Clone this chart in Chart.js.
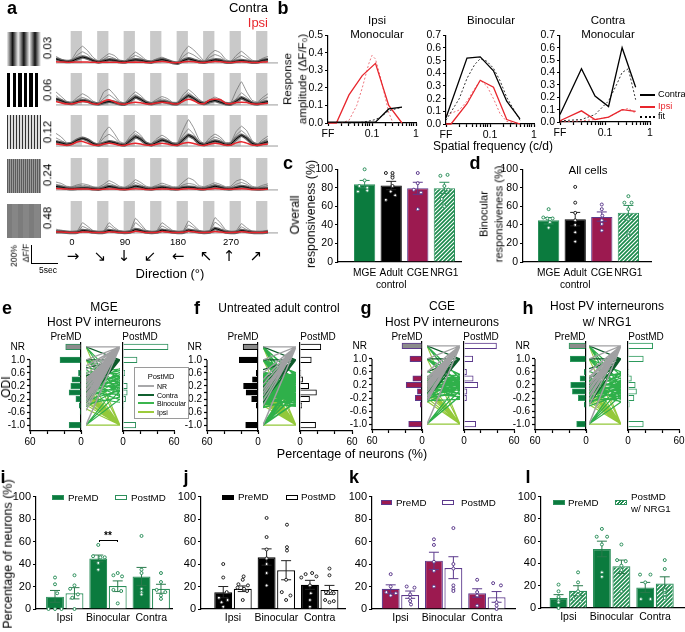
<!DOCTYPE html>
<html>
<head>
<meta charset="utf-8">
<title>Ocular dominance figure</title>
<script src="https://cdn.jsdelivr.net/npm/chart.js@4"></script>
<style>
html, body { margin: 0; padding: 0; background: #fff; }
#fig { position: relative; width: 685px; height: 632px; overflow: hidden; font-family: "Liberation Sans", Arial, sans-serif; color: #000; }
#fig canvas { position: absolute; }
.t { position: absolute; white-space: nowrap; line-height: 1; will-change: transform; }
.s { position: absolute; box-sizing: border-box; }
</style>
</head>
<body>
<div id="fig"></div>
<script>
// panel a: traces, one value per second, in % dF/F
const stimCentres = [3.83, 8.83, 13.83, 18.83, 23.83, 28.83, 33.83, 38.83];
const spatialLabels = ["0.03", "0.06", "0.12", "0.24", "0.48"];
const a1Contra = [44,25,15, 20,45,63,50,25, 10,22,33,28,15, 10,25,33,28,15, 8,25,36,25,5, -3,25,44,30,12, 8,22,33,28,10, 8,18,25,18,8, 10,28,36];
const a1Ipsi = [12,10,8, 8,10,10,9,8, 6,8,8,8,6, 6,8,9,8,6, 6,12,15,10,4, 4,10,15,12,6, 6,10,15,12,8, 6,10,12,10,6, 6,10,12];
const a1Hi = [70,40,20, 40,130,180,130,60, 20,60,100,80,30, 15,70,117,80,30, 20,45,62,40,10, 10,110,180,140,80, 20,90,135,110,40, 15,80,125,80,30, 20,50,70];
const a1Mid = [50,30,15, 25,85,120,90,35, 12,40,70,50,20, 10,50,80,55,20, 15,30,45,28,8, 5,70,110,85,45, 15,60,90,70,25, 10,50,80,50,20, 15,35,50];
const a2Contra = [66,45,22, 15,35,48,38,18, 10,25,36,28,12, 8,45,85,60,25, 12,25,36,28,12, 15,60,100,70,30, 15,35,48,30,12, 10,40,77,50,20, 10,25,36];
const a2Ipsi = [36,22,12, 12,25,36,32,12, 10,40,55,35,12, 8,22,30,24,12, 10,22,30,24,14, 12,40,60,45,16, 14,55,60,58,18, 14,25,30,25,12, 8,14,18];
const a2Hi = [140,90,40, 30,80,120,90,40, 20,140,170,110,40, 20,90,140,100,45, 25,60,90,70,30, 30,110,165,120,60, 25,55,85,60,30, 25,150,250,140,50, 30,80,120];
const a2Mid = [100,60,28, 22,55,80,60,28, 15,70,110,70,28, 15,65,110,75,32, 18,45,65,50,22, 20,80,130,90,40, 18,40,65,42,20, 18,65,130,85,32, 20,55,85];
const a3Contra = [48,35,18, 30,65,85,65,28, 10,30,48,38,18, 12,60,103,75,28, 12,40,66,50,22, 15,70,120,90,32, 15,38,55,42,18, 20,80,120,85,30, 12,30,48];
const a3Ipsi = [22,15,8, 20,45,51,30,12, 8,22,30,22,8, 8,22,30,22,10, 8,20,30,22,10, 10,30,40,28,10, 8,20,30,22,10, 12,35,48,32,10, 8,16,22];
const a3Hi = [140,100,40, 40,70,92,70,30, 30,140,213,140,50, 30,110,165,120,45, 25,80,120,85,35, 40,180,293,200,70, 25,90,132,100,40, 40,160,220,170,60, 20,70,110];
const a3Mid = [90,60,28, 32,60,80,60,25, 20,90,130,90,35, 22,85,135,100,35, 18,60,90,65,28, 28,120,190,130,50, 20,65,100,75,30, 30,120,170,120,45, 15,50,80];
const a4Contra = [37,30,18, 12,18,22,20,12, 8,20,37,28,14, 10,22,40,30,14, 10,20,30,22,12, 12,26,30,26,12, 12,25,40,28,14, 12,25,37,28,14, 10,14,18];
const a4Ipsi = [15,12,10, 8,10,11,10,6, 5,8,10,9,6, 4,8,13,10,6, 5,8,10,9,7, 6,10,12,10,7, 6,10,15,11,7, 7,11,13,10,5, 5,6,7];
const a4Hi = [85,70,40, 35,55,66,55,35, 30,60,100,75,40, 30,60,110,80,40, 30,50,73,55,35, 35,85,128,105,45, 35,55,77,60,35, 40,95,114,85,40, 30,50,66];
const a4Mid = [60,50,30, 28,42,50,42,28, 22,40,70,50,30, 22,45,80,55,30, 24,38,52,40,28, 26,55,70,60,32, 26,40,58,45,28, 28,60,80,60,30, 24,35,48];
const a5Contra = [14,12,8, 6,8,26,20,10, 6,8,26,18,9, 6,10,37,25,10, 6,9,30,20,10, 6,8,30,20,9, 6,10,48,30,10, 6,8,26,16,7, 5,6,11];
const a5Ipsi = [12,10,7, 5,6,11,9,5, 4,6,12,9,5, 4,6,18,12,6, 4,6,15,10,5, 5,7,18,12,5, 5,7,15,10,5, 5,7,14,9,4, 4,5,10];
const a5Hi = [40,30,18, 15,20,110,70,25, 15,22,110,60,22, 15,25,158,95,30, 15,22,110,70,28, 16,22,128,80,28, 16,25,165,110,35, 16,22,100,55,20, 14,18,30];
const a5Mid = [24,18,12, 10,14,70,45,18, 10,15,75,40,16, 10,16,110,65,22, 10,15,75,45,20, 10,15,85,55,20, 10,16,115,75,24, 10,14,65,35,15, 10,12,22];

// panel b: tuning curves, [spatial frequency, amplitude]; FF sits at 0.01
const b1Contra = [[.01,.005],[.03,.005],[.06,.005],[.12,.005],[.24,.08],[.48,.09]];
const b1Ipsi = [[.01,0],[.0155,0],[.03,.16],[.06,.27],[.12,.34],[.24,.1],[.48,0]];
const b1ContraFit = [[.03,0],[.06,.004],[.1,.015],[.12,.02],[.16,.035],[.24,.07],[.48,.09]];
const b1IpsiFit = [[.02,0],[.03,.015],[.045,.1],[.06,.2],[.085,.34],[.1,.385],[.12,.365],[.16,.25],[.24,.06],[.3,0]];
const b2Contra = [[.01,.05],[.03,.52],[.06,.53],[.12,.42],[.24,.18],[.48,.04]];
const b2Ipsi = [[.01,0],[.013,0],[.03,.16],[.06,.345],[.12,.29],[.24,.035],[.48,0]];
const b2ContraFit = [[.01,.03],[.02,.2],[.03,.36],[.045,.47],[.06,.515],[.085,.495],[.12,.44],[.17,.34],[.24,.21],[.48,.03]];
const b2IpsiFit = [[.01,.07],[.02,.11],[.03,.18],[.045,.28],[.06,.345],[.085,.3],[.12,.2],[.17,.08],[.24,.02],[.48,0]];
const b3Contra = [[.01,.06],[.03,.43],[.06,.21],[.12,.125],[.24,.6],[.48,.28]];
const b3Ipsi = [[.01,.01],[.03,.09],[.06,.02],[.12,.04],[.24,.1],[.48,.085]];
const b3ContraFit = [[.01,.01],[.03,.02],[.06,.06],[.12,.17],[.18,.3],[.24,.4],[.33,.43],[.48,.18]];
const b3IpsiFit = [[.01,0],[.03,.01],[.06,.02],[.12,.04],[.24,.095],[.33,.11],[.48,.07]];
const logTicks = [.01,.02,.03,.04,.05,.06,.07,.08,.09,.1,.2,.3,.4,.5,.6,.7,.8,.9,1];

// panels c, d
const cdCategories = ["MGE", ["Adult","control"], "CGE", "NRG1"];
const cValues = [84, 82.5, 79.5, 79.5];
const cErrors = [[80,88],[78,87],[73,86],[74,86]];
const cDots = [
  [[0,100],[0,88],[-.2,82],[.1,80],[-.25,76],[.1,77]],
  [[-.2,96],[.05,96],[.05,93],[.05,91],[.05,82],[-.02,76],[.15,72],[-.2,67]],
  [[0,96],[0,85],[-.15,78],[.12,75],[0,57]],
  [[-.15,93],[.12,94],[0,82],[.15,78],[-.1,68],[-.02,61],[0,60]]
];
const dValues = [45, 46, 48.5, 53];
const dErrors = [[41,48],[39,53.5],[44,54],[46,61]];
const dDots = [
  [[0,57],[-.2,48],[.15,47],[-.05,47],[.05,43],[0,37]],
  [[0,81],[0,64],[0,53],[0,45],[0,40],[0,32],[0,22]],
  [[0,62],[0,57],[.02,50],[0,45],[0,41],[0,34]],
  [[0,71],[-.15,64],[.12,64],[0,57],[0,46],[0,31],[0,29],[0,28]]
];

// panels e-h: ODI histograms, value in % per bin; NR row sits above 1.0
const nrRow = 1.4;
const odiBins = [nrRow, 1, .6, .4, .2, 0, -.2, -.4, -.6, -1];
const odiTicks = [nrRow, 1, .8, .6, .4, .2, 0, -.2, -.4, -.6, -.8, -1];
const odiLabelled = [1, .6, .2, -.2, -.6, -1];
const ePre = [18, 24.7, 3, 10.6, 12, 14, 6, 2, 1, 14];
const ePost = [53, 16.5, 2, 1, 5, 5, 3, 1, 0, 15];
const fPre = [17.5, 22, 2, 6.5, 17, 14, 7.5, 2, 0, 14.5];
const fPost = [24, 13, 1, 3, 10, 19, 11, 2, 0, 18];
const gPre = [24, 14.5, 1, 11, 19, 5.5, 8, 2, 0, 16];
const gPost = [39, 10.5, 3, 11, 16.5, 3.5, 3, 0, 0, 14];
const hPre = [20, 18.5, 2, 7, 18, 16, 9, 2, 0, 11];
const hPost = [29, 18, 1, 4, 8.5, 10, 7, 1.5, 0, 18];

// panels e-h: each neuron pre -> post, split by its PostMD class
const eNrPre = [1.4,1.4,1.4,1.4,1,1,1,1,1,.82,.7,.55,.42,.36,.3,.22,.18,.1,.04,-.06,-.12,-.2,-.3,-.42,-.55,-1];
const eContraPre = [1.4,1.4,1,1,1,.75,.5,.38,.24,.12,.02,-.14,-.3];
const eBinPairs = [[1.4,.3],[1.4,-.1],[1,.62],[1,.44],[1,.22],[1,.05],[.78,.5],[.7,.12],[.62,.72],[.58,.3],[.52,.6],[.46,.41],[.44,.05],[.4,.68],[.36,.25],[.34,-.12],[.3,.5],[.28,.14],[.24,.74],[.22,.36],[.2,.02],[.18,.55],[.14,.22],[.12,-.22],[.1,.42],[.06,.1],[.04,.62],[0,.32],[-.04,-.05],[-.08,.48],[-.12,.18],[-.16,-.3],[-.2,.38],[-.24,.06],[-.3,.26],[-.36,-.14],[-.44,.12],[-1,.3],[-1,.05],[-1,-.2]];
const eIpsiPre = [1.4,1,.5,.3,.18,.08,.02,-.04,-.1,-.16,-.24,-.3,-.38,-.5,-1,-1,-1,-1];

const fNrPre = [1.4,1.4,1.4,1,1,1,.6,.4,.25,.1,0,-.1,-.25,-.4,-1];
const fContraPre = [1.4,1.4,1,1,1,.7,.42,.3,.16,.02,-.12,-.3];
const fBinPairs = [[1.4,.5],[1.4,.1],[1.4,-.3],[1,.6],[1,.42],[1,.3],[1,.1],[1,-.1],[1,-.3],[.62,.44],[.6,.05],[.55,-.2],[.5,.56],[.46,.28],[.42,-.05],[.4,.5],[.38,.12],[.35,-.38],[.32,.38],[.3,.6],[.28,.02],[.26,.22],[.24,-.28],[.22,.46],[.2,.15],[.19,-.1],[.18,.34],[.16,.54],[.14,.06],[.13,-.2],[.12,.26],[.1,.42],[.09,-.04],[.08,.18],[.07,-.34],[.06,.5],[.05,.1],[.04,.3],[.03,-.14],[.02,.2],[.01,.58],[0,-.02],[-.02,.36],[-.03,-.24],[-.04,.12],[-.06,.46],[-.07,-.08],[-.08,.24],[-.1,.04],[-.12,-.4],[-.13,.32],[-.14,-.16],[-.16,.16],[-.18,.52],[-.2,-.02],[-.22,.28],[-.24,-.3],[-.26,.08],[-.28,.4],[-.3,-.12],[-.32,.2],[-.34,-.42],[-.38,.02],[-.42,.3],[-.46,-.2],[-1,.4],[-1,.16],[-1,-.06],[-1,-.3],[-1,.52]];
const fIpsiPre = [1.4,1,.55,.4,.28,.18,.1,.04,-.02,-.08,-.14,-.2,-.26,-.32,-.4,-1,-1,-1,-1,-1];

const gNrPre = [1.4,1.4,1.4,1.4,1,1,1,.6,.42,.36,.28,.22,.18,.12,.06,-.02,-.14,-.22,-.3,-1];
const gContraPre = [1.4,1.4,1,1,.6,.4,.22,.1,-.04,-.22];
const gBinPairs = [[1.4,.4],[1.4,.12],[1,.52],[1,.3],[1,.1],[.62,.2],[.46,.5],[.44,.14],[.42,.36],[.4,-.1],[.38,.24],[.34,.44],[.3,.02],[.28,.3],[.26,.18],[.24,.52],[.22,.08],[.2,.38],[.2,-.2],[.18,.26],[.16,.46],[.14,.12],[.12,.32],[.1,-.06],[.08,.22],[.06,.42],[.04,.04],[.02,.28],[0,.16],[-.02,.36],[-.06,-.16],[-.1,.24],[-.14,.08],[-.18,.4],[-.2,-.04],[-.22,.18],[-.26,.3],[-.28,-.24],[-.32,.1],[-1,.26],[-1,.04],[-1,-.14]];
const gIpsiPre = [1.4,1,.4,.24,.16,.08,0,-.08,-.2,-.3,-1,-1,-1,-1];

const hNrPre = [1.4,1.4,1.4,1,1,1,1,.6,.44,.36,.24,.16,.06,-.02,-.14,-.24,-.42,-1];
const hContraPre = [1.4,1.4,1.4,1,1,.7,.4,.2,.04,-.18,-.4];
const hBinPairs = [[1.4,.48],[1.4,.16],[1.4,-.2],[1,.6],[1,.38],[1,.12],[1,-.1],[.62,.26],[.46,.52],[.42,.08],[.38,-.14],[.34,.3],[.3,.58],[.26,.16],[.24,-.34],[.22,.4],[.2,.02],[.18,.24],[.16,-.08],[.14,.48],[.12,.12],[.1,-.24],[.08,.34],[.06,.18],[.04,-.02],[.02,.56],[0,.22],[-.02,-.16],[-.04,.06],[-.06,.42],[-.1,.28],[-.12,-.3],[-.14,.1],[-.18,-.06],[-.2,.32],[-.24,.14],[-.28,-.2],[-.32,.04],[-.38,.2],[-.44,-.1],[-1,.34],[-1,.1],[-1,-.12],[-1,-.32]];
const hIpsiPre = [1.4,1,.5,.3,.2,.1,.02,-.06,-.14,-.22,-.3,-.4,-1,-1,-1,-1,-1];

// panels i-l: mean, SEM range and single animals, [jitter, value]
const groupCategories = ["Ipsi", "Binocular", "Contra"];
const iPre = [11, 45, 29];
const iPost = [14, 20.5, 18];
const iPreErr = [[6,16.5],[42,48],[21,37]];
const iPostErr = [[9,19],[15.5,25],[14,22]];
const iPreDots = [[[0,28],[0,22],[.05,14],[-.15,0],[0,0],[.15,0]], [[0,57],[-.12,47],[.05,46],[.15,46],[0,41],[0,35]], [[0,65],[0,35],[0,32],[0,18],[0,15],[0,13]]];
const iPostDots = [[[0,30],[0,21],[-.1,18],[.08,13],[-.05,10],[0,0]], [[0,32],[-.1,30],[.1,29],[-.1,17],[.08,16],[0,5]], [[0,32],[0,24],[-.1,17],[.1,15],[0,12],[0,9]]];
const jPre = [15, 46, 21.5];
const jPost = [18, 34.5, 17];
const jPreErr = [[10,20],[39,53.5],[17.5,25.5]];
const jPostErr = [[15.5,20.5],[26,43],[13,21]];
const jPreDots = [[[0,40],[0,28],[.08,15],[-.1,10],[.1,8],[-.04,6],[0,2]], [[0,81],[0,64],[0,53],[0,45],[0,40],[0,32],[0,21]], [[.05,32],[-.1,31],[-.2,28],[.15,29],[0,21],[.02,14],[0,8],[0,2]]];
const jPostDots = [[[.02,29],[0,26],[-.1,22],[.12,21],[-.12,19],[.03,18],[.1,16],[0,8]], [[.02,75],[.02,55],[.02,52],[0,26],[-.1,15],[.1,12],[0,8]], [[0,36],[0,30],[.02,16],[-.08,15],[.1,14],[-.1,8],[.1,7],[0,6]]];
const kPre = [18, 43, 14];
const kPost = [12.5, 36.5, 10.5];
const kPreErr = [[14,21.5],[35,50.5],[10.5,18]];
const kPostErr = [[9.5,16],[27,46.5],[6,15.5]];
const kPreDots = [[[0,31],[0,20],[-.1,15],[.12,14],[0,12]], [[0,62],[0,57],[0,42],[0,34],[0,20]], [[0,26],[0,15],[0,12],[0,3]]];
const kPostDots = [[[-.08,20],[.1,19],[0,13],[0,10],[0,7],[.02,4]], [[0,72],[0,40],[0,36],[0,21],[0,18],[0,16]], [[-.08,23],[.1,21],[0,6],[0,3],[0,0]]];
const lPre = [9, 53, 18.5];
const lPost = [15.5, 37.5, 22];
const lPreErr = [[6,12],[46,60],[14,23]];
const lPostErr = [[11,20],[31,43],[16,28]];
const lPreDots = [[[0,21],[0,15],[0,10],[0,7],[0,5],[0,0]], [[0,71],[-.12,64],[.12,64],[0,57],[0,32],[0,28]], [[-.12,30],[.12,30],[0,23],[-.1,8],[.12,8]]];
const lPostDots = [[[0,32],[0,23],[0,15],[0,12],[-.1,8],[.05,6]], [[0,57],[-.1,43],[.1,42],[0,38],[0,34],[0,15]], [[0,43],[0,35],[0,16],[0,12],[0,10],[0,9]]];

const green = "#0b7b3e", dotGreen = "#2c8f5b", maroon = "#9c1a50", purple = "#5c3a8c", red = "#e8262d";
const fig = document.getElementById("fig");
Chart.defaults.font.family = '"Liberation Sans", Arial, sans-serif';
Chart.defaults.color = "#000";
Chart.defaults.animation = false;
Chart.defaults.responsive = false;
Chart.defaults.plugins.legend.display = false;
Chart.defaults.plugins.tooltip.enabled = false;

function txt(text, x, y, size, opts) {
  opts = opts || {};
  const d = document.createElement("div");
  d.className = "t";
  d.textContent = text;
  d.style.left = x + "px";
  d.style.top = y + "px";
  d.style.fontSize = size + "px";
  if (opts.bold) d.style.fontWeight = "bold";
  if (opts.color) d.style.color = opts.color;
  if (opts.font) d.style.fontFamily = opts.font;
  const ax = opts.left ? "0" : opts.right ? "-100%" : "-50%";
  d.style.transform = "translate(" + ax + ",-50%)" + (opts.rot ? " rotate(-90deg)" : "");
  fig.appendChild(d);
}
function rect(x, y, w, h, css) {
  const d = document.createElement("div");
  d.className = "s";
  d.style.cssText += "left:" + x + "px;top:" + y + "px;width:" + w + "px;height:" + h + "px;" + (css || "");
  fig.appendChild(d);
}

// canvas placed so the plot area lands on x0..x1, y0..y1; the margins are held by the axes
function place(x0, y0, x1, y1, m, config) {
  const c = document.createElement("canvas");
  c.width = Math.round(x1 - x0 + m.l + m.r);
  c.height = Math.round(y1 - y0 + m.t + m.b);
  c.style.left = (x0 - m.l) + "px";
  c.style.top = (y0 - m.t) + "px";
  fig.appendChild(c);
  config.options = config.options || {};
  config.options.devicePixelRatio = 1;
  config.options.layout = { padding: { top: m.t, right: m.r, left: m.noAxis ? m.l : 0, bottom: m.noAxis ? m.b : 0 } };
  return new Chart(c, config);
}
function axis(extra, fit) {
  const a = {
    grid: { drawOnChartArea: false, tickColor: "#000", tickWidth: 1.2, tickLength: 3, offset: false },
    border: { color: "#000", width: 1.2 },
    ticks: { color: "#000", font: { size: 10.5 }, padding: 2, maxRotation: 0, autoSkip: false },
    offset: false
  };
  Object.keys(extra).forEach(k => {
    if (a[k] && typeof a[k] === "object") Object.assign(a[k], extra[k]); else a[k] = extra[k];
  });
  a.afterFit = fit;
  return a;
}
const fixW = w => s => { s.width = w; };
const fixH = h => s => { s.height = h; };
const tickList = list => s => { s.ticks = list.map(v => ({ value: v })); };
const pts = pairs => pairs.map(p => ({ x: p[0], y: p[1] }));

function hatch(fore) {
  const c = document.createElement("canvas");
  c.width = 4; c.height = 4;
  const g = c.getContext("2d");
  g.fillStyle = "#fff"; g.fillRect(0, 0, 4, 4);
  g.strokeStyle = fore; g.lineWidth = 1.7;
  g.beginPath(); g.moveTo(-1, 1); g.lineTo(1, -1); g.moveTo(0, 4); g.lineTo(4, 0); g.moveTo(3, 5); g.lineTo(5, 3); g.stroke();
  return g.createPattern(c, "repeat");
}
const hatchGreen = hatch("#1b8a4c");

function errSet(ranges, xs, colour) {
  const d = [];
  ranges.forEach((r, i) => { d.push({ x: xs[i], y: r[0] }, { x: xs[i], y: r[1] }, { x: xs[i], y: null }); });
  return { type: "line", data: d, borderColor: colour, borderWidth: 1, pointStyle: "line", pointRadius: 5, pointBorderColor: colour, pointBorderWidth: 1, pointBackgroundColor: colour, clip: false, order: 2 };
}
function dotSet(groups, xs, colour) {
  const d = [];
  groups.forEach((g, i) => g.forEach(p => d.push({ x: xs[i] + p[0], y: p[1] })));
  return { type: "line", data: d, showLine: false, pointStyle: "circle", pointRadius: 1.5, pointBorderWidth: 1, pointBorderColor: colour, pointBackgroundColor: "#fff", clip: false, order: 1 };
}

// ---- panel a ----
const contraTraces = [a1Contra, a2Contra, a3Contra, a4Contra, a5Contra];
const ipsiTraces = [a1Ipsi, a2Ipsi, a3Ipsi, a4Ipsi, a5Ipsi];
const hiTraces = [a1Hi, a2Hi, a3Hi, a4Hi, a5Hi];
const midTraces = [a1Mid, a2Mid, a3Mid, a4Mid, a5Mid];
const rowTops = [31, 72.7, 114.7, 158.3, 200.7];
const bySec = arr => arr.map((v, t) => ({ x: t, y: v }));
const trace = (arr, colour, w, order) => ({ type: "line", data: bySec(arr), borderColor: colour, borderWidth: w, pointRadius: 0, tension: .1, order: order });
rowTops.forEach((top, r) => {
  place(56, top, 278, top + 34.5, { l: 0, r: 0, t: 0, b: 0, noAxis: true }, {
    type: "bar",
    data: { datasets: [
      trace(ipsiTraces[r], red, 1.5, 1),
      trace(contraTraces[r], "#000", 1, 2),
      trace(contraTraces[r], "#666", 3.5, 3),
      trace(hiTraces[r], "#666", .7, 4),
      trace(midTraces[r], "#666", .7, 4),
      { type: "line", data: [{ x: 0, y: 0 }, { x: 41.9, y: 0 }], borderColor: "#999", borderWidth: 1, pointRadius: 0, order: 5 },
      { type: "bar", data: stimCentres.map(x => ({ x: x, y: 344 })), backgroundColor: "#c9c9c9", barThickness: 10.6, order: 6 }
    ] },
    options: { scales: {
      x: { type: "linear", display: false, min: 0, max: 41.9, offset: false, grid: { offset: false } },
      y: { type: "linear", display: false, min: -33, max: 344 }
    } }
  });
  txt(spatialLabels[r], 48, top + 17, 11.5, { rot: true });
});
const gratings = [
  "repeating-linear-gradient(90deg,#eee 0,#111 5.6px,#eee 11.2px)",
  "repeating-linear-gradient(90deg,#000 0,#000 3.5px,#fff 3.5px,#fff 5.6px)",
  "repeating-linear-gradient(90deg,#333 0,#333 1.4px,#ddd 1.4px,#ddd 3px)",
  "repeating-linear-gradient(90deg,#5c5c5c 0,#5c5c5c 1px,#9a9a9a 1px,#9a9a9a 2px)",
  "repeating-linear-gradient(90deg,#7c7c7c 0,#7c7c7c 5px,#868686 5px,#868686 11px)"
];
[32, 73, 115, 159, 204].forEach((y, i) => rect(6.7, y, 34, 33.5, "background:" + gratings[i]));
txt("Contra", 268, 7, 13, { right: true });
txt("Ipsi", 268, 22, 13, { right: true, color: red });
rect(31, 245, 1.2, 18.5, "background:#000");
rect(31, 262.5, 27, 1.2, "background:#000");
txt("200%", 14, 256, 8.5, { rot: true });
txt("\u0394F/F", 26, 253, 8.5, { rot: true });
txt("5sec", 47.5, 270, 8.5);
[["0", 72], ["90", 125], ["180", 178], ["270", 231]].forEach(p => txt(p[0], p[1], 242, 9.5));
[["\u2192", 73], ["\u2198", 100], ["\u2193", 124], ["\u2199", 150], ["\u2190", 178], ["\u2196", 206], ["\u2191", 229], ["\u2197", 256]]
  .forEach(p => txt(p[0], p[1], 256, 15, { font: '"DejaVu Sans"' }));
txt("Direction (\u00b0)", 170, 273, 13);

// ---- panel b ----
function tuning(x0, y0, x1, y1, yMax, contra, ipsi, contraFit, ipsiFit) {
  const line = (d, colour, w, dash) => ({ data: pts(d), borderColor: colour, borderWidth: w, borderDash: dash || [], pointRadius: 0, clip: false });
  const yTicks = [];
  for (let i = 0; i <= Math.round(yMax * 10); i++) yTicks.push(i / 10);
  place(x0, y0, x1, y1, { l: 22, r: 12, t: 8, b: 16 }, {
    type: "line",
    data: { datasets: [line(contra, "#000", 1.3), line(ipsi, red, 1.3), line(contraFit, "#000", .8, [2, 2]), line(ipsiFit, "#e8505a", .8, [2, 2])] },
    options: { scales: {
      x: axis({ type: "logarithmic", min: .01, max: 1, afterBuildTicks: tickList(logTicks), ticks: { callback: v => v === .01 ? "FF" : v === .1 ? "0.1" : v === 1 ? "1" : "" } }, fixH(16)),
      y: axis({ type: "linear", min: 0, max: yMax, afterBuildTicks: tickList(yTicks), ticks: { callback: v => v.toFixed(1) } }, fixW(22))
    } }
  });
}
tuning(328, 35, 416, 123.3, .5, b1Contra, b1Ipsi, b1ContraFit, b1IpsiFit);
tuning(446, 35, 534.3, 124, .7, b2Contra, b2Ipsi, b2ContraFit, b2IpsiFit);
tuning(560, 35, 650, 122, .7, b3Contra, b3Ipsi, b3ContraFit, b3IpsiFit);
txt("Ipsi", 377, 21, 11.5); txt("Monocular", 377, 35, 11.5);
txt("Binocular", 491, 21, 11.5);
txt("Contra", 608, 21, 11.5); txt("Monocular", 608, 35, 11.5);
txt("Response", 288, 79, 11.5, { rot: true });
txt("amplitude (\u0394F/F\u2080)", 303, 79, 11.5, { rot: true });
txt("Spatial frequency (c/d)", 492.7, 146, 12);
rect(640, 94, 15, 1.6, "background:#000");
rect(640, 106, 15, 1.6, "background:" + red);
rect(640, 116, 15, 0, "border-top:2px dotted #000");
txt("Contra", 657.7, 95, 9.2, { left: true });
txt("Ipsi", 657.7, 106.7, 9.2, { left: true, color: red });
txt("fit", 657.7, 117, 9.2, { left: true });

// ---- panels c, d ----
function cells(x0, x1, y0, y1, centre0, step, values, errors, dots) {
  const xs = values.map((v, i) => i);
  const fills = [green, "#000", maroon, hatchGreen];
  const edges = ["#2c8f5b", "#000", purple, "#2c8f5b"];
  const marks = [dotGreen, "#222", purple, dotGreen];
  const data = values.map((v, i) => ({ x: i, y: v }));
  const ds = [{ type: "bar", data: data, backgroundColor: fills, borderColor: edges, borderWidth: 1, barPercentage: .8, categoryPercentage: 1, order: 3 }];
  errors.forEach((e, i) => ds.push(errSet([e], [i], i === 1 ? "#222" : marks[i])));
  dots.forEach((d, i) => ds.push(dotSet([d], [i], marks[i])));
  place(x0, y0, x1, y1, { l: 26, r: 12, t: 8, b: 30 }, {
    type: "bar",
    data: { datasets: ds },
    options: { scales: {
      x: axis({ type: "linear", min: (x0 - centre0) / step, max: (x1 - centre0) / step, afterBuildTicks: tickList(xs), grid: { drawTicks: false }, ticks: { padding: 5, font: { size: 10.2 }, callback: v => cdCategories[v] } }, fixH(30)),
      y: axis({ type: "linear", min: 0, max: 100, ticks: { stepSize: 20 } }, fixW(26))
    } }
  });
}
cells(338.3, 461.7, 169.3, 262, 365, 26.67, cValues, cErrors, cDots);
cells(523.3, 651.7, 169.3, 262, 549, 26.67, dValues, dErrors, dDots);
txt("Overall", 295, 215, 12.3, { rot: true });
txt("responsiveness (%)", 311, 214, 12.3, { rot: true });
txt("Binocular", 484, 214, 11, { rot: true });
txt("responsiveness (%)", 499, 214, 11, { rot: true });
txt("All cells", 587.7, 170.7, 11.5);

// ---- panels e-h ----
const partialSpine = {
  id: "partialSpine",
  afterDraw(chart) {
    const g = chart.ctx, y = chart.scales.y;
    g.save();
    g.strokeStyle = "#000"; g.lineWidth = 1.2;
    g.beginPath();
    g.moveTo(chart.chartArea.left, y.getPixelForValue(1));
    g.lineTo(chart.chartArea.left, chart.chartArea.bottom);
    g.stroke();
    g.restore();
  }
};
const odiMin = -1.18, odiMax = 1.518;
function odiSeries(vals) { return odiBins.map((b, i) => ({ x: vals[i], y: b })); }
function odiPanel(b, pre, post, nrPre, contraPre, binPairs, ipsiPre, preFill, edge, slopeW) {
  const [preL, preR, slL, slR, postL, postR, top, bottom] = b;
  const tickX = [0, 20, 40, 60];
  const xLabel = v => (v === 0 || v === 60) ? String(v) : "";
  place(preL, top, preR, bottom, { l: 30, r: 12, t: 8, b: 17 }, {
    type: "bar",
    data: { datasets: [{ data: odiSeries(pre), barThickness: 5.4, borderColor: edge, borderWidth: 1,
      backgroundColor: ctx => ctx.parsed && ctx.parsed.y === nrRow ? "#8c8c8c" : preFill }] },
    options: { indexAxis: "y", scales: {
      x: axis({ type: "linear", reverse: true, min: 0, max: 60, afterBuildTicks: tickList(tickX), ticks: { callback: xLabel, font: { size: 10 } } }, fixH(17)),
      y: axis({ type: "linear", min: odiMin, max: odiMax, border: { display: false }, afterBuildTicks: tickList(odiTicks),
        grid: { tickColor: c => c.tick && c.tick.value === nrRow ? "transparent" : "#000" },
        ticks: { font: { size: 10 }, callback: v => v === nrRow ? "NR" : odiLabelled.includes(v) ? v.toFixed(1) : "" } }, fixW(30)),
      y2: axis({ type: "linear", position: "right", min: odiMin, max: odiMax, grid: { drawTicks: false }, ticks: { display: false } }, fixW(0))
    } },
    plugins: [partialSpine]
  });
  const seg = pairs => {
    const d = [];
    pairs.forEach(p => d.push({ x: 0, y: p[0] }, { x: 1, y: p[1] }, { x: 1, y: null }));
    return d;
  };
  const slopeLine = (pairs, colour, w) => ({ data: seg(pairs), borderColor: colour, borderWidth: w, pointRadius: 0 });
  place(slL, top, slR, bottom, { l: 0, r: 0, t: 0, b: 0, noAxis: true }, {
    type: "line",
    data: { datasets: [
      slopeLine(nrPre.map(v => [v, nrRow]), "#a0a0a2", 1.4),
      slopeLine(contraPre.map(v => [v, 1]), "#0e5a2b", 1.1),
      slopeLine(binPairs, "#2fb04a", slopeW),
      slopeLine(ipsiPre.map(v => [v, -1]), "#93c83a", 1.1)
    ] },
    options: { scales: {
      x: { type: "linear", display: false, min: 0, max: 1 },
      y: { type: "linear", display: false, min: odiMin, max: odiMax }
    } }
  });
  place(postL, top, postR, bottom, { l: 8, r: 12, t: 8, b: 17 }, {
    type: "bar",
    data: { datasets: [{ data: odiSeries(post), barThickness: 5.4, backgroundColor: "#fff", borderColor: edge, borderWidth: 1 }] },
    options: { indexAxis: "y", scales: {
      x: axis({ type: "linear", min: 0, max: 60, afterBuildTicks: tickList(tickX), ticks: { callback: xLabel, font: { size: 10 } } }, fixH(17)),
      y: axis({ type: "linear", min: odiMin, max: odiMax, grid: { drawTicks: false }, ticks: { display: false } }, fixW(8))
    } }
  });
  txt("PreMD", (preL + preR) / 2 + 10, 336.7, 10);
  txt("PostMD", (postL + postR) / 2 - 8, 336.7, 10);
}
odiPanel([30, 81, 86, 119.6, 122.7, 174, 343, 431], ePre, ePost, eNrPre, eContraPre, eBinPairs, eIpsiPre, green, "#2c8f5b", 1.1);
odiPanel([207.3, 258.7, 263, 296, 300, 352, 343, 431], fPre, fPost, fNrPre, fContraPre, fBinPairs, fIpsiPre, "#000", "#000", 1.7);
odiPanel([372.3, 422.3, 427, 460, 464.3, 514, 342.4, 430.4], gPre, gPost, gNrPre, gContraPre, gBinPairs, gIpsiPre, maroon, purple, 1.3);
odiPanel([534.7, 585.3, 589.3, 621.7, 628, 679.3, 342.4, 430.4], hPre, hPost, hNrPre, hContraPre, hBinPairs, hIpsiPre, green, "#2c9a5c", 1.2);
txt("MGE", 104, 307, 12); txt("Host PV interneurons", 104, 321.7, 12);
txt("Untreated adult control", 279, 308, 12);
txt("CGE", 441.7, 306, 12); txt("Host PV interneurons", 441.7, 321.7, 12);
txt("Host PV interneurons", 606.7, 306, 12); txt("w/ NRG1", 606.7, 322, 12);
txt("ODI", 6, 387, 12, { rot: true });
txt("Percentage of neurons (%)", 352, 454, 12.6);
rect(134.3, 367.3, 55, 52, "border:1.5px solid #9a9a9a;background:#fff");
txt("PostMD", 161, 376.7, 7.5);
[["NR", 386, "#a8a8aa"], ["Contra", 395, "#10602f"], ["Binocular", 403, "#3bb54e"], ["Ipsi", 411.7, "#9ccb3b"]].forEach(p => {
  rect(138, p[1] - 1, 16, 2, "background:" + p[2]);
  txt(p[0], 157, p[1], 7, { left: true });
});

// ---- panels i-l ----
function groupPanel(x0, x1, centre0, y0, y1, pre, post, preErr, postErr, preDots, postDots, st) {
  const step = 43.35, off = .225;
  const preX = pre.map((v, i) => i - off), postX = post.map((v, i) => i + off);
  const bar = (vals, fill, edge) => ({ type: "bar", data: vals.map((v, i) => ({ x: i, y: v })), backgroundColor: fill, borderColor: edge, borderWidth: 1.2, barPercentage: .92, categoryPercentage: .9, order: 3 });
  place(x0, y0, x1, y1, { l: 26, r: 12, t: 8, b: 16 }, {
    type: "bar",
    data: { datasets: [
      bar(pre, st.preFill, st.edge),
      bar(post, st.postFill, st.edge),
      errSet(preErr, preX, st.err),
      errSet(postErr, postX, st.err),
      dotSet(preDots, preX, st.dot),
      dotSet(postDots, postX, st.dot)
    ] },
    options: { scales: {
      x: axis({ type: "linear", min: (x0 - centre0) / step, max: (x1 - centre0) / step, afterBuildTicks: tickList([0, 1, 2]), grid: { drawTicks: false }, ticks: { padding: 3, callback: v => groupCategories[v] } }, fixH(16)),
      y: axis({ type: "linear", min: 0, max: 100, ticks: { stepSize: 20, font: { size: 11 } } }, fixW(26))
    } }
  });
}
groupPanel(35.7, 172, 64.5, 495.7, 608.3, iPre, iPost, iPreErr, iPostErr, iPreDots, iPostDots, { preFill: green, postFill: "#fff", edge: "#2c8f5b", err: "#2a7a4c", dot: dotGreen });
groupPanel(201, 345, 233, 495.7, 608.3, jPre, jPost, jPreErr, jPostErr, jPreDots, jPostDots, { preFill: "#000", postFill: "#fff", edge: "#000", err: "#222", dot: "#222" });
groupPanel(372.3, 515.7, 400.8, 495.7, 608.3, kPre, kPost, kPreErr, kPostErr, kPreDots, kPostDots, { preFill: maroon, postFill: "#fff", edge: purple, err: purple, dot: purple });
groupPanel(541, 684, 568.3, 495.7, 607.7, lPre, lPost, lPreErr, lPostErr, lPreDots, lPostDots, { preFill: green, postFill: hatchGreen, edge: "#2c8f5b", err: "#2a7a4c", dot: dotGreen });
txt("Percentage of neurons (%)", 8, 554, 12.5, { rot: true });
rect(98.7, 539.7, 19.6, 2.4, "border:1.1px solid #000;border-bottom:none");
txt("**", 108, 536, 10, { bold: true });
const swatch = (x, y, fill, edge) => rect(x, y - 2.7, 11.5, 5.4, "background:" + fill + ";border:1.2px solid " + edge);
const hatchCss = "repeating-linear-gradient(135deg,#1b8a4c 0,#1b8a4c 1.2px,#fff 1.2px,#fff 2.4px)";
swatch(52, 497.7, green, "#2c8f5b"); txt("PreMD", 68, 497.7, 9.8, { left: true });
swatch(115, 497.7, "#fff", "#2c8f5b"); txt("PostMD", 131, 497.7, 9.8, { left: true });
swatch(222, 497.3, "#000", "#000"); txt("PreMD", 238, 497.3, 9.8, { left: true });
swatch(286, 497.3, "#fff", "#000"); txt("PostMD", 300.7, 497.3, 9.8, { left: true });
swatch(380.7, 502.7, maroon, purple); txt("PreMD", 395.7, 502.7, 9.8, { left: true });
swatch(442.3, 502.7, "#fff", purple); txt("PostMD", 460.7, 502.7, 9.8, { left: true });
swatch(553.3, 502.7, green, "#2c8f5b"); txt("PreMD", 568, 502.7, 9.8, { left: true });
swatch(615, 502.7, hatchCss, "#2c8f5b");
txt("PostMD", 631, 497.3, 9.8, { left: true }); txt("w/ NRG1", 631, 509, 9.8, { left: true });

// panel letters
[["a", 12, 8], ["b", 283, 8], ["c", 288, 163], ["d", 475, 163], ["e", 7, 308], ["f", 197, 308], ["g", 366, 308], ["h", 528, 308], ["i", 3, 477], ["j", 186, 477], ["k", 354, 477], ["l", 528, 477]]
  .forEach(p => txt(p[0], p[1], p[2], 18, { bold: true }));
</script>
</body>
</html>
